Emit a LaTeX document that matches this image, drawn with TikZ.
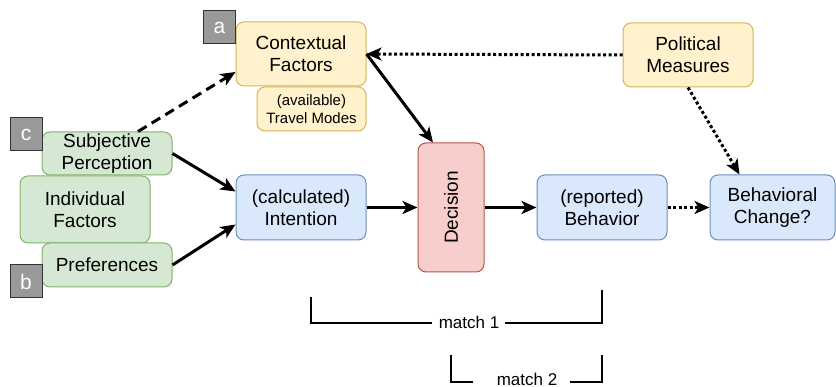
\documentclass[tikz,border=0pt]{standalone}
\usepackage{fontspec}
\setmainfont{Liberation Sans}
\usetikzlibrary{arrows.meta,calc}
\definecolor{yfill}{HTML}{FFF2CC}\definecolor{ydraw}{HTML}{D6B656}
\definecolor{gfill}{HTML}{D5E8D4}\definecolor{gdraw}{HTML}{82B366}
\definecolor{bfill}{HTML}{DAE8FC}\definecolor{bdraw}{HTML}{6C8EBF}
\definecolor{rfill}{HTML}{F8CECC}\definecolor{rdraw}{HTML}{B85450}
\definecolor{tagfill}{HTML}{999999}\definecolor{tagdraw}{HTML}{333333}
\tikzset{
  box/.style={draw, rounded corners=8pt, line width=1pt, inner sep=0pt, align=center,
    font=\fontsize{19}{22}\selectfont},
  ybox/.style={box, fill=yfill, draw=ydraw},
  gbox/.style={box, fill=gfill, draw=gdraw},
  bbox/.style={box, fill=bfill, draw=bdraw},
  rbox/.style={box, fill=rfill, draw=rdraw},
  tag/.style={draw=tagdraw, fill=tagfill, line width=1pt, text=white, inner sep=0pt,
    minimum width=32pt, minimum height=33pt, font=\fontsize{21}{21}\selectfont},
  arr/.style={line width=3pt, -{Stealth[length=15pt,width=13pt,inset=4pt]}},
  dotarr/.style={arr, dash pattern=on 3pt off 2.5pt},
  dasharr/.style={arr, dash pattern=on 10pt off 6pt},
  brk/.style={line width=2pt},
  brklabel/.style={inner sep=0pt, font=\fontsize{17}{17}\selectfont}
}
\begin{document}
\begin{tikzpicture}[x=1pt,y=-1pt]
\useasboundingbox (0,0) rectangle (836,387);
% nodes
\node[ybox, minimum width=130pt, minimum height=64pt] (ctx) at (301,54) {Contextual\\Factors};
\node[ybox, minimum width=109pt, minimum height=44pt, font=\fontsize{15}{18}\selectfont] (travel) at (311.5,109) {(available)\\Travel Modes};
\node[tag] (taga) at (219.5,27.5) {a};
\node[gbox, minimum width=130pt, minimum height=43pt] (subj) at (107,153.5) {Subjective\\Perception};
\node[gbox, minimum width=130pt, minimum height=67pt] (indiv) at (85,209.5) {Individual\\Factors};
\node[gbox, minimum width=130pt, minimum height=44pt] (pref) at (107,265) {Preferences};
\node[tag] (tagc) at (26,134.5) {c};
\node[tag] (tagb) at (26,281.5) {b};
\node[bbox, minimum width=130pt, minimum height=65pt] (int) at (301,207.5) {(calculated)\\Intention};
\node[rbox, minimum width=66pt, minimum height=129pt] (dec) at (451,207.5) {};
\node[rotate=90, font=\fontsize{19}{22}\selectfont] (declabel) at (dec.center) {Decision};
\node[bbox, minimum width=130pt, minimum height=65pt] (beh) at (602,207.5) {(reported)\\Behavior};
\node[bbox, minimum width=125pt, minimum height=65pt] (chg) at (772.5,207.5) {Behavioral\\Change?};
\node[ybox, minimum width=130pt, minimum height=64pt] (pol) at (688,55) {Political\\Measures};
% connectors
\draw[dasharr] ([xshift=31pt]subj.north) -- ([yshift=-18pt]ctx.west);
\draw[arr] (subj.east) -- ([yshift=16pt]int.west);
\draw[arr] (pref.east) -- ([yshift=-17pt]int.west);
\draw[arr] (int.east) -- (dec.west);
\draw[arr] (ctx.east) -- ([xshift=-18pt]dec.north);
\draw[dotarr] (pol.west) -- (ctx.east);
\draw[arr] (dec.east) -- (beh.west);
\draw[dotarr] (beh.east) -- (chg.west);
\draw[dotarr] (pol.south) -- ([xshift=-33pt]chg.north);
% brackets
\node[brklabel] (m1) at (469,322) {match 1};
\draw[brk] (311,297) |- (432,323);
\draw[brk] (505,323) -| (602,290);
\node[brklabel] (m2) at (527,379) {match 2};
\draw[brk] (451,355) |- (473,382);
\draw[brk] (570,382) -| (602,355);
\end{tikzpicture}
\end{document}
